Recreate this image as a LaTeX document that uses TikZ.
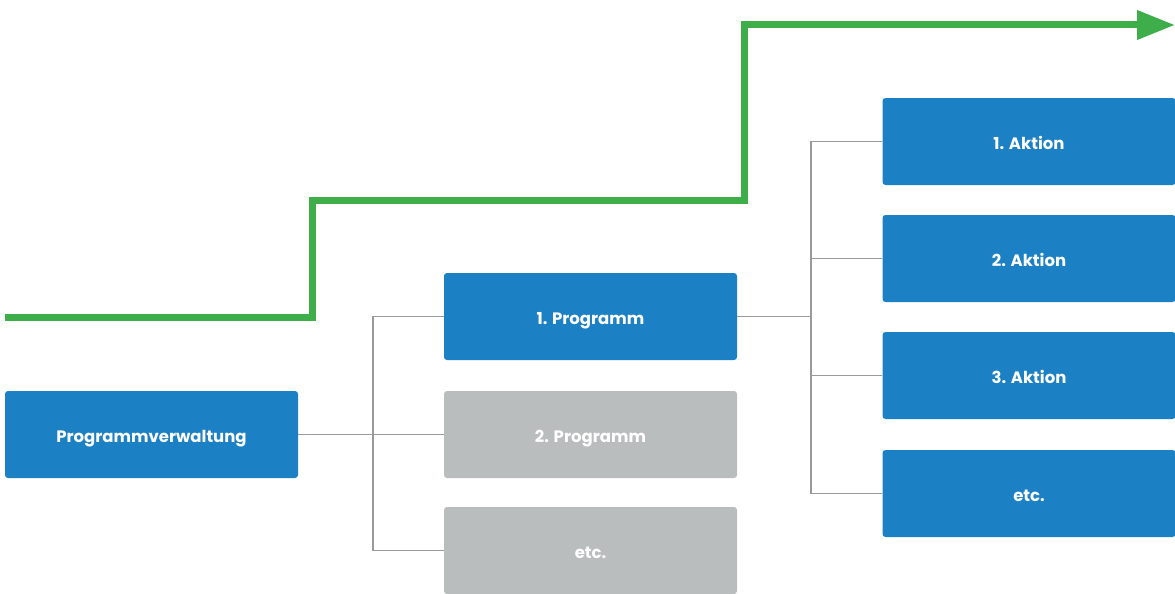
\documentclass[tikz,border=0pt]{standalone}
\usepackage{fontspec}
\setmainfont{Poppins}
\usetikzlibrary{arrows.meta}
\definecolor{boxblue}{HTML}{1B80C4}
\definecolor{boxgray}{HTML}{BABDBE}
\definecolor{pathgreen}{HTML}{3DAE4A}
\definecolor{linkgray}{HTML}{9A9A9A}
\tikzset{
  block/.style={rectangle, rounded corners=3pt, minimum width=293pt, minimum height=87pt,
    inner sep=0pt, text=white, font=\fontsize{16.5}{18}\selectfont\bfseries},
  active/.style={block, fill=boxblue},
  idle/.style={block, fill=boxgray},
  link/.style={draw=linkgray, line width=1.2pt},
  progress/.style={draw=pathgreen, line width=7pt,
    -{Triangle[length=38pt, width=28pt]}}
}
\newcommand{\lbl}[1]{\raisebox{-7.5pt}[0pt][0pt]{#1}}
\begin{document}
\begin{tikzpicture}[x=1pt, y=-1pt]
\useasboundingbox (0,0) rectangle (1175,594);

% boxes
\node[active] (pv) at (151.5,434.5) {\lbl{Programmverwaltung}};
\node[active] (p1) at (590.5,316.5) {\lbl{1. Programm}};
\node[idle]   (p2) at (590.5,434.5) {\lbl{2. Programm}};
\node[idle]   (p3) at (590.5,550.5) {\lbl{etc.}};
\node[active] (a1) at (1029,141.5) {\lbl{1. Aktion}};
\node[active] (a2) at (1029,258.5) {\lbl{2. Aktion}};
\node[active] (a3) at (1029,375.5) {\lbl{3. Aktion}};
\node[active] (a4) at (1029,493.5) {\lbl{etc.}};

% tree connectors
\coordinate (j1) at (373,434.5);
\draw[link] (pv.east) -- (j1) -- (p2.west);
\draw[link] (p1.west) -| (j1);
\draw[link] (p3.west) -| (j1);

\coordinate (j2) at (811,316.5);
\draw[link] (p1.east) -- (j2);
\draw[link] (a1.west) -| (j2);
\draw[link] (a2.west) -| (j2);
\draw[link] (a3.west) -| (j2);
\draw[link] (a4.west) -| (j2);

% stepped progress arrow
\coordinate (g0) at (5,317);
\coordinate (g1) at (312,317);
\coordinate (g2) at (312,200);
\coordinate (g3) at (744,200);
\coordinate (g4) at (744,25);
\coordinate (g5) at (1175,25);
\draw[progress] (g0) -- (g1) -- (g2) -- (g3) -- (g4) -- (g5);
\end{tikzpicture}
\end{document}
